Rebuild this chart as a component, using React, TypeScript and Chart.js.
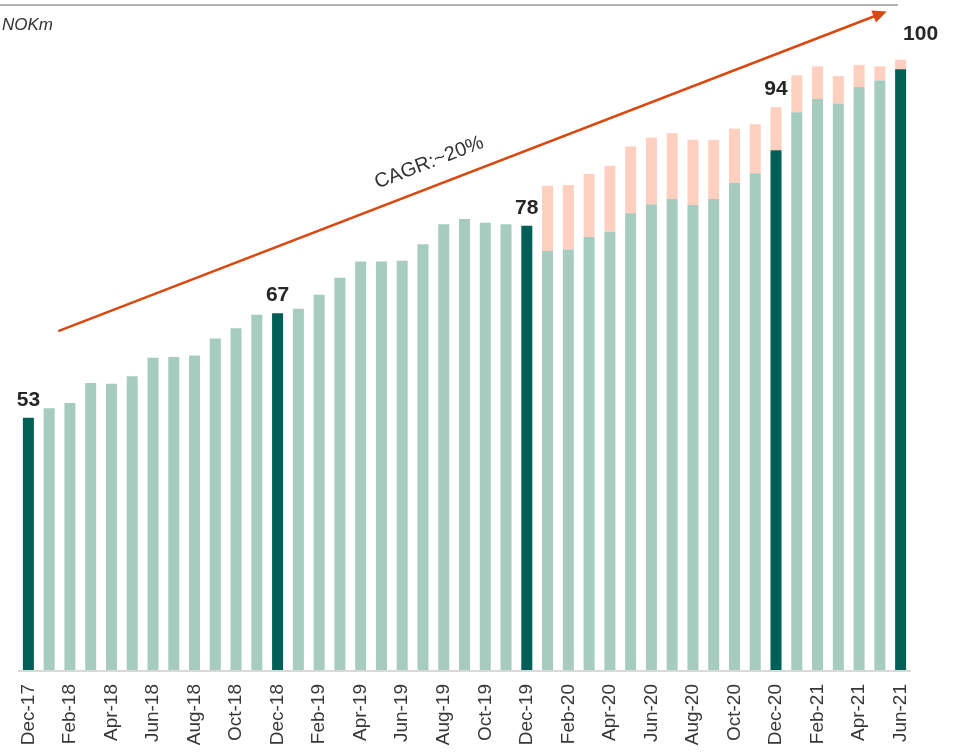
import React, { useEffect, useRef } from "react";
import { Chart, registerables } from "chart.js";

Chart.register(...registerables);

const months: string[] = [
  "Dec-17","Jan-18","Feb-18","Mar-18","Apr-18","May-18","Jun-18","Jul-18","Aug-18","Sep-18","Oct-18","Nov-18",
  "Dec-18","Jan-19","Feb-19","Mar-19","Apr-19","May-19","Jun-19","Jul-19","Aug-19","Sep-19","Oct-19","Nov-19",
  "Dec-19","Jan-20","Feb-20","Mar-20","Apr-20","May-20","Jun-20","Jul-20","Aug-20","Sep-20","Oct-20","Nov-20",
  "Dec-20","Jan-21","Feb-21","Mar-21","Apr-21","May-21","Jun-21",
];

const baseValues: number[] = [
  53.0, 54.3, 55.0, 57.7, 57.6, 58.6, 61.1, 61.2, 61.4, 63.7, 65.1, 66.9,
  67.1, 67.7, 69.6, 71.9, 74.1, 74.1, 74.2, 76.4, 79.1, 79.8, 79.3, 79.1,
  78.9, 75.5, 75.7, 77.4, 78.1, 80.6, 81.8, 82.5, 81.7, 82.5, 84.7, 86.0,
  89.1, 94.2, 96.0, 95.4, 97.6, 98.5, 100.0,
];

const extraValues: number[] = [
  0, 0, 0, 0, 0, 0, 0, 0, 0, 0, 0, 0,
  0, 0, 0, 0, 0, 0, 0, 0, 0, 0, 0, 0,
  0, 8.8, 8.7, 8.5, 8.9, 9.0, 9.0, 8.9, 8.8, 8.0, 7.3, 6.6,
  5.8, 5.0, 4.4, 3.7, 3.0, 1.9, 1.3,
];

const highlightMonths: string[] = ["Dec-17", "Dec-18", "Dec-19", "Dec-20", "Jun-21"];
const highlightLabels: string[] = ["53", "67", "78", "94", "100"];

// arrow annotation in data coordinates: [categoryIndex, value]
const arrowStart: [number, number] = [1.44, 64.7];
const arrowEnd: [number, number] = [41.33, 107.8];
const cagrText = "CAGR:~20%";
const cagrAnchor: [number, number] = [19.3, 87.4];

const DARK = "#005F57";
const LIGHT = "#A6CBBF";
const PEACH = "#FFD0BF";
const ARROW = "#D9480F";

const overlayPlugin = {
  id: "overlay",
  beforeDatasetsDraw(chart: any) {
    const ctx = chart.ctx as CanvasRenderingContext2D;
    const a = chart.chartArea;
    ctx.save();
    ctx.strokeStyle = "#d9d9d9";
    ctx.lineWidth = 2;
    ctx.beginPath();
    ctx.moveTo(a.left, a.bottom + 1);
    ctx.lineTo(a.right, a.bottom + 1);
    ctx.stroke();
    ctx.restore();
  },
  afterDatasetsDraw(chart: any) {
    const ctx = chart.ctx as CanvasRenderingContext2D;
    const xs = chart.scales.x;
    const ys = chart.scales.y;
    ctx.save();

    // top rule
    ctx.strokeStyle = "#b4b4b4";
    ctx.lineWidth = 2;
    ctx.beginPath();
    ctx.moveTo(0, 5);
    ctx.lineTo(898, 5);
    ctx.stroke();

    // unit label
    ctx.fillStyle = "#333333";
    ctx.font = "italic 17px 'Liberation Sans', Arial, sans-serif";
    ctx.textAlign = "left";
    ctx.textBaseline = "alphabetic";
    ctx.fillText("NOKm", 2, 30);

    // arrow
    const x1 = xs.getPixelForValue(arrowStart[0]);
    const y1 = ys.getPixelForValue(arrowStart[1]);
    const x2 = xs.getPixelForValue(arrowEnd[0]);
    const y2 = ys.getPixelForValue(arrowEnd[1]);
    const ang = Math.atan2(y2 - y1, x2 - x1);
    const headLen = 14;
    const headW = 6.5;
    ctx.strokeStyle = ARROW;
    ctx.fillStyle = ARROW;
    ctx.lineWidth = 2.5;
    ctx.beginPath();
    ctx.moveTo(x1, y1);
    ctx.lineTo(x2 - Math.cos(ang) * headLen * 0.8, y2 - Math.sin(ang) * headLen * 0.8);
    ctx.stroke();
    const bx = x2 - Math.cos(ang) * headLen;
    const by = y2 - Math.sin(ang) * headLen;
    ctx.beginPath();
    ctx.moveTo(x2, y2);
    ctx.lineTo(bx + Math.sin(ang) * headW, by - Math.cos(ang) * headW);
    ctx.lineTo(bx - Math.sin(ang) * headW, by + Math.cos(ang) * headW);
    ctx.closePath();
    ctx.fill();

    // CAGR text
    const tx = xs.getPixelForValue(cagrAnchor[0]);
    const ty = ys.getPixelForValue(cagrAnchor[1]);
    ctx.save();
    ctx.translate(tx, ty);
    ctx.rotate(ang);
    ctx.fillStyle = "#333333";
    ctx.font = "20px 'Liberation Sans', Arial, sans-serif";
    ctx.textAlign = "center";
    ctx.textBaseline = "middle";
    ctx.fillText(cagrText, 0, 0);
    ctx.restore();

    // value labels
    ctx.fillStyle = "#262626";
    ctx.font = "bold 21px 'Liberation Sans', Arial, sans-serif";
    ctx.textAlign = "center";
    ctx.textBaseline = "alphabetic";
    highlightMonths.forEach((m, k) => {
      const i = months.indexOf(m);
      if (i < 0) return;
      const total = baseValues[i] + extraValues[i];
      let px = xs.getPixelForValue(i);
      let py = ys.getPixelForValue(total) - 12;
      if (k === highlightMonths.length - 1) {
        px += 20;
        py -= 8;
      }
      ctx.fillText(highlightLabels[k], px, py);
    });

    ctx.restore();
  },
};

export default function App() {
  const canvasRef = useRef<HTMLCanvasElement | null>(null);

  useEffect(() => {
    document.body.style.margin = "0";
    const canvas = canvasRef.current;
    if (!canvas) return;
    const chart = new Chart(canvas, {
      type: "bar",
      data: {
        labels: months,
        datasets: [
          {
            label: "Base",
            data: baseValues,
            backgroundColor: months.map((m) => (highlightMonths.includes(m) ? DARK : LIGHT)),
            borderWidth: 0,
            categoryPercentage: 1,
            barPercentage: 0.53,
            stack: "s",
          },
          {
            label: "Extra",
            data: extraValues,
            backgroundColor: PEACH,
            borderWidth: 0,
            categoryPercentage: 1,
            barPercentage: 0.53,
            stack: "s",
          },
        ],
      },
      options: {
        animation: false,
        responsive: false,
        maintainAspectRatio: false,
        layout: { padding: { left: 18, right: 46, top: 10, bottom: 0 } },
        plugins: {
          legend: { display: false },
          tooltip: { enabled: false },
          title: { display: false },
        },
        scales: {
          x: {
            stacked: true,
            offset: true,
            grid: { display: false, drawTicks: false },
            border: { display: false },
            ticks: {
              autoSkip: false,
              maxRotation: 90,
              minRotation: 90,
              padding: 14,
              color: "#383838",
              font: { family: "'Liberation Sans', Arial, sans-serif", size: 19 },
              callback: (_v: any, idx: number) => (idx % 2 === 0 ? months[idx] : ""),
            },
            afterFit: (scale: any) => {
              scale.height = 86;
            },
          },
          y: {
            stacked: true,
            display: false,
            min: 19,
            max: 108,
            grid: { display: false },
            border: { display: false },
          },
        },
      },
      plugins: [overlayPlugin],
    });
    return () => chart.destroy();
  }, []);

  return (
    <div style={{ position: "absolute", left: 0, top: 0, width: 957, height: 756 }}>
      <canvas ref={canvasRef} width={957} height={756} style={{ width: 957, height: 756 }} />
    </div>
  );
}
